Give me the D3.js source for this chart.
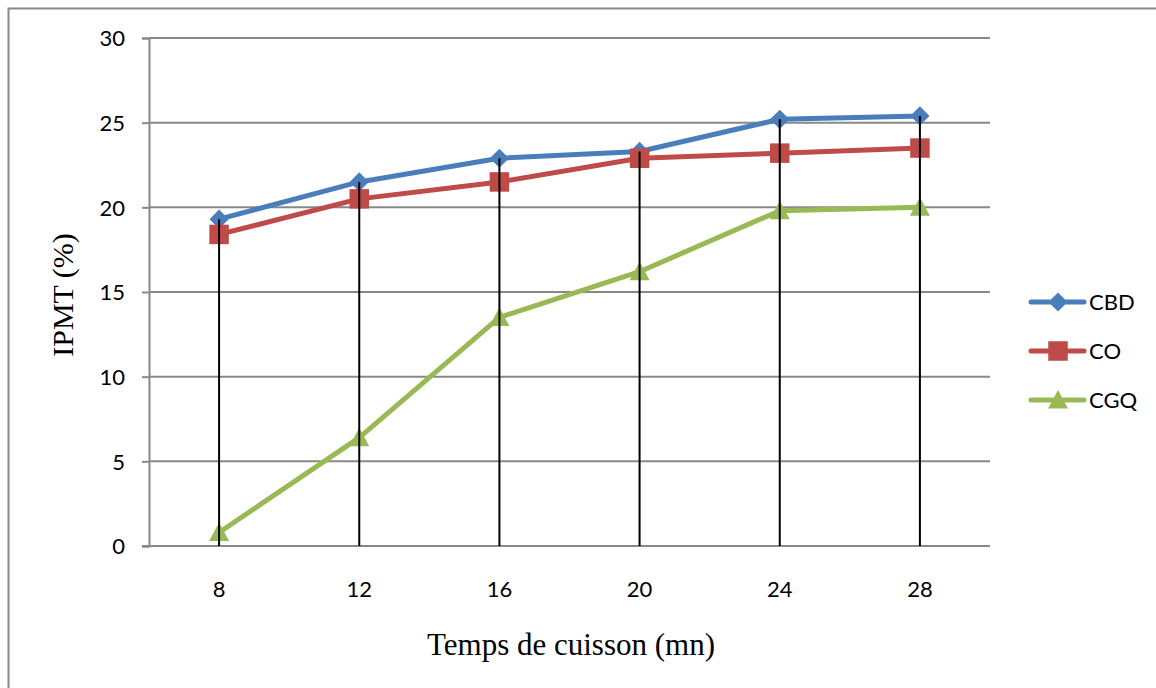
<!DOCTYPE html>
<html>
<head>
<meta charset="utf-8">
<script src="https://cdn.jsdelivr.net/npm/d3@7"></script>
<style>
  body { margin: 0; background: #fff; }
  svg { display: block; }
</style>
</head>
<body>
<div id="chart"></div>
<script>
// data
const categories = ['8', '12', '16', '20', '24', '28'];
const seriesNames = ['CBD', 'CO', 'CGQ'];
const cbdValues = [19.3, 21.5, 22.9, 23.3, 25.2, 25.4];
const coValues = [18.4, 20.5, 21.5, 22.9, 23.2, 23.5];
const cgqValues = [0.8, 6.4, 13.5, 16.2, 19.8, 20.0];
const yTicks = [0, 5, 10, 15, 20, 25, 30];

const WIDTH = 1156;
const HEIGHT = 688;
const PLOT = {left: 149, right: 990, top: 38, bottom: 546};

const LABEL_FONT = 'Lato, Carlito, "Open Sans", sans-serif';
const TITLE_FONT = '"Liberation Serif", "Times New Roman", serif';

const colors = {CBD: '#4A7EBB', CO: '#BE4B48', CGQ: '#98B954'};
const series = [
  {name: 'CBD', values: cbdValues},
  {name: 'CO', values: coValues},
  {name: 'CGQ', values: cgqValues}
];

const svg = d3.select('#chart')
  .append('svg')
  .attr('width', WIDTH)
  .attr('height', HEIGHT);

// outer chart border (runs off the right and bottom of the picture)
svg.append('rect')
  .attr('x', 8.5).attr('y', 8.5)
  .attr('width', 1200).attr('height', 720)
  .attr('fill', 'none')
  .attr('stroke', '#888')
  .attr('stroke-width', 2);

const x = d3.scaleBand()
  .domain(categories)
  .range([PLOT.left, PLOT.right]);

const y = d3.scaleLinear()
  .domain([0, 30])
  .range([PLOT.bottom, PLOT.top]);

const cx = d => x(d) + x.bandwidth() / 2;

// y axis
const yAxis = d3.axisLeft(y)
  .tickValues(yTicks)
  .tickSize(7)
  .tickPadding(17);

const gy = svg.append('g')
  .attr('transform', `translate(${PLOT.left},0)`)
  .call(yAxis);
gy.select('.domain').attr('stroke', '#888').attr('stroke-width', 2);
gy.selectAll('.tick line').attr('stroke', '#888').attr('stroke-width', 2);
gy.selectAll('.tick text')
  .attr('font-family', LABEL_FONT)
  .attr('font-size', 22)
  .attr('dy', '0.36em')
  .attr('fill', '#000');

// horizontal gridlines
svg.append('g')
  .selectAll('line')
  .data(yTicks.filter(t => t > 0))
  .join('line')
  .attr('x1', PLOT.left).attr('x2', PLOT.right)
  .attr('y1', d => y(d)).attr('y2', d => y(d))
  .attr('stroke', '#888')
  .attr('stroke-width', 2);

// x axis
const xAxis = d3.axisBottom(x).tickSize(0);
const gx = svg.append('g')
  .attr('transform', `translate(0,${PLOT.bottom})`)
  .call(xAxis);
gx.select('.domain').remove();
gx.selectAll('.tick text')
  .attr('y', 51)
  .attr('dy', 0)
  .attr('font-family', LABEL_FONT)
  .attr('font-size', 22)
  .attr('fill', '#000');
svg.append('line')
  .attr('x1', PLOT.left - 7).attr('x2', PLOT.right)
  .attr('y1', y(0)).attr('y2', y(0))
  .attr('stroke', '#888')
  .attr('stroke-width', 2);

// lines
const line = d3.line()
  .x((d, i) => cx(categories[i]))
  .y(d => y(d));

svg.append('g')
  .selectAll('path')
  .data(series)
  .join('path')
  .attr('d', d => line(d.values))
  .attr('fill', 'none')
  .attr('stroke', d => colors[d.name])
  .attr('stroke-width', 5)
  .attr('stroke-linejoin', 'round')
  .attr('stroke-linecap', 'round');

// markers
const triangleType = {
  draw(ctx, size) {
    const w = Math.sqrt(size) / 2;
    ctx.moveTo(0, -w);
    ctx.lineTo(w, w * 0.85);
    ctx.lineTo(-w, w * 0.85);
    ctx.closePath();
  }
};

const symbolFor = {
  CBD: d3.symbol().type(d3.symbolDiamond2).size(235),
  CO: d3.symbol().type(d3.symbolSquare).size(380),
  CGQ: d3.symbol().type(triangleType).size(400)
};

function drawMarker(g, name) {
  g.append('path')
    .attr('d', symbolFor[name]())
    .attr('fill', colors[name]);
}

series.forEach(s => {
  s.values.forEach((v, i) => {
    const g = svg.append('g')
      .attr('transform', `translate(${cx(categories[i])},${y(v)})`);
    drawMarker(g, s.name);
  });
});

// drop lines from highest series down to the axis
svg.append('g')
  .selectAll('line')
  .data(categories)
  .join('line')
  .attr('x1', d => cx(d)).attr('x2', d => cx(d))
  .attr('y1', (d, i) => y(d3.max(series, s => s.values[i])))
  .attr('y2', y(0))
  .attr('stroke', '#000')
  .attr('stroke-width', 2);

// axis titles
svg.append('text')
  .attr('transform', 'translate(73,295) rotate(-90)')
  .attr('text-anchor', 'middle')
  .attr('font-family', TITLE_FONT)
  .attr('font-size', 30)
  .text('IPMT (%)');

svg.append('text')
  .attr('x', 571).attr('y', 655)
  .attr('text-anchor', 'middle')
  .attr('font-family', TITLE_FONT)
  .attr('font-size', 31)
  .text('Temps de cuisson (mn)');

// legend
const legend = svg.append('g').attr('transform', 'translate(1031,302)');
seriesNames.forEach((name, i) => {
  const row = legend.append('g').attr('transform', `translate(0,${i * 49})`);
  row.append('line')
    .attr('x1', 0).attr('x2', 53)
    .attr('stroke', colors[name])
    .attr('stroke-width', 5)
    .attr('stroke-linecap', 'round');
  const m = row.append('g').attr('transform', 'translate(27,0)');
  drawMarker(m, name);
  row.append('text')
    .attr('x', 58).attr('y', 8)
    .attr('font-family', LABEL_FONT)
    .attr('font-size', 22)
    .text(name);
});
</script>
</body>
</html>
